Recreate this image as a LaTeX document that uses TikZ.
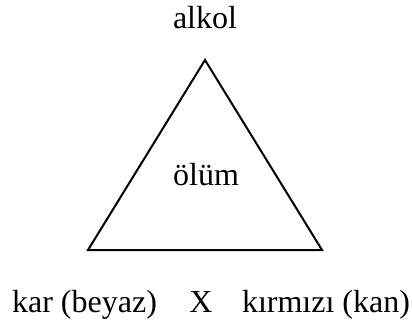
\documentclass[tikz,border=0pt]{standalone}
\usepackage{fontspec}
\setmainfont{Liberation Serif}
\usepackage{tikz}
\usetikzlibrary{positioning}

\begin{document}
\begin{tikzpicture}[x=1pt, y=-1pt,
      yazi/.style={font=\fontsize{32}{38}\selectfont, anchor=base, inner sep=0pt},
      kenar/.style={draw=black, line width=2pt, line join=miter}]
    \useasboundingbox (0,0) rectangle (412,324);
    \coordinate (tepe) at (205,60);
    \coordinate (sol) at (88,250);
    \coordinate (sag) at (322,250);
    \draw[kenar] (tepe) -- (sag) -- (sol) -- cycle;
    \node[yazi] (alkol) at (205,28) {alkol};
    \node[yazi] (olum) at (206,185) {ölüm};
    \node[yazi] (kar) at (84.5,312) {kar (beyaz)};
    \node[yazi] (x) at (201,312) {X};
    \node[yazi] (kan) at (326,312) {kırmızı (kan)};
  \end{tikzpicture}
\end{document}
